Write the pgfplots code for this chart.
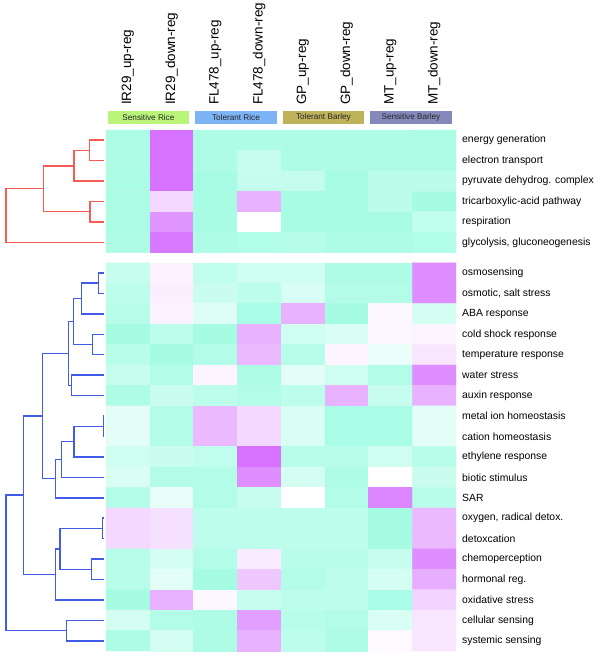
\documentclass[border=0pt]{standalone}
\usepackage{fontspec}
\setmainfont{Liberation Sans}
\usepackage{pgfplots}
\pgfplotsset{compat=1.18}

\definecolor{dendred}{RGB}{244,92,84}
\definecolor{dendblue}{RGB}{66,92,234}
\definecolor{grpgreen}{RGB}{186,245,122}
\definecolor{grpblue}{RGB}{124,180,245}
\definecolor{grpolive}{RGB}{190,178,90}
\definecolor{grpviolet}{RGB}{132,136,186}

\newcommand{\colfont}{\fontsize{13.5}{15}\selectfont}
\newcommand{\rowfont}{\fontsize{10.4}{12}\selectfont}
\newcommand{\grpfont}{\fontsize{8.2}{9}\selectfont}

\begin{document}
\begin{tikzpicture}
% ---- dendrogram (x in px of distance, y in rows)
\begin{axis}[
  at={(0pt,12pt)}, anchor=south west,
  scale only axis, width=106pt, height=521pt,
  xmin=0, xmax=106, ymin=-0.5, ymax=25, y dir=reverse,
  hide axis, clip=false,
  every axis plot/.append style={line width=1.5pt, line join=miter},
]
% red cluster
\addplot[dendred] coordinates {(104,0) (89.3,0) (89.3,1) (104,1)};
\addplot[dendred] coordinates {(89.3,0.5) (74,0.5) (74,2) (104,2)};
\addplot[dendred] coordinates {(104,3) (90,3) (90,4) (104,4)};
\addplot[dendred] coordinates {(74,1.25) (43.3,1.25) (43.3,3.5) (90,3.5)};
\addplot[dendred] coordinates {(43.3,2.375) (6,2.375) (6,5) (104,5)};
% blue cluster
\addplot[dendblue] coordinates {(104,6.5) (98.7,6.5) (98.7,7.5) (104,7.5)};
\addplot[dendblue] coordinates {(98.7,7) (81.7,7) (81.7,8.5) (104,8.5)};
\addplot[dendblue] coordinates {(104,9.5) (92.7,9.5) (92.7,10.5) (104,10.5)};
\addplot[dendblue] coordinates {(81.7,7.75) (73.3,7.75) (73.3,10) (92.7,10)};
\addplot[dendblue] coordinates {(104,11.5) (71.7,11.5) (71.7,12.5) (104,12.5)};
\addplot[dendblue] coordinates {(73.3,8.875) (68.3,8.875) (68.3,12) (71.7,12)};
\addplot[dendblue] coordinates {(104,13.5) (103.3,13.5) (103.3,14.5) (104,14.5)};
\addplot[dendblue] coordinates {(103.3,14) (74,14) (74,15.5) (104,15.5)};
\addplot[dendblue] coordinates {(74,14.75) (61.3,14.75) (61.3,16.5) (104,16.5)};
\addplot[dendblue] coordinates {(61.3,15.625) (55.7,15.625) (55.7,17.5) (104,17.5)};
\addplot[dendblue] coordinates {(68.3,10.44) (42.7,10.44) (42.7,16.56) (55.7,16.56)};
\addplot[dendblue] coordinates {(104,18.5) (102.3,18.5) (102.3,19.5) (104,19.5)};
\addplot[dendblue] coordinates {(104,20.5) (91.3,20.5) (91.3,21.5) (104,21.5)};
\addplot[dendblue] coordinates {(102.3,19) (60,19) (60,21) (91.3,21)};
\addplot[dendblue] coordinates {(60,20) (55.7,20) (55.7,22.5) (104,22.5)};
\addplot[dendblue] coordinates {(42.7,13.5) (23.3,13.5) (23.3,21.25) (55.7,21.25)};
\addplot[dendblue] coordinates {(104,23.5) (66.7,23.5) (66.7,24.5) (104,24.5)};
\addplot[dendblue] coordinates {(23.3,17.375) (6,17.375) (6,24) (66.7,24)};
\end{axis}

% ---- heatmap
\begin{axis}[
  at={(106pt,12pt)}, anchor=south west,
  scale only axis, width=350pt, height=521pt,
  xmin=-0.5, xmax=7.5, ymin=-0.5, ymax=25, y dir=reverse,
  axis line style={draw=none}, major tick length=0pt,
  xtick=\empty, clip=false,
  ytick={0,1,2,3,4,5,6.5,7.5,8.5,9.5,10.5,11.5,12.5,13.5,14.5,15.5,16.5,17.5,18.5,19.5,20.5,21.5,22.5,23.5,24.5},
  yticklabels={energy generation, electron transport, pyruvate dehydrog. complex,
    tricarboxylic-acid pathway, respiration, {glycolysis, gluconeogenesis},
    osmosensing, {osmotic, salt stress}, ABA response, cold shock response,
    temperature response, water stress, auxin response, metal ion homeostasis,
    cation homeostasis, ethylene response, biotic stimulus, SAR,
    {oxygen, radical detox.}, detoxcation, chemoperception, hormonal reg.,
    oxidative stress, cellular sensing, systemic sensing},
  yticklabel pos=right,
  yticklabel style={anchor=west, inner sep=0pt, xshift=6pt, font=\rowfont, text=black},
  colormap={tealpink}{rgb255=(160,252,226) rgb255=(255,255,255) rgb255=(214,114,255)},
  point meta min=-1, point meta max=1,
]
% upper block: energy metabolism
\addplot[matrix plot*, mesh/cols=8, point meta=explicit] coordinates {
 (0,0)[-0.85] (1,0)[1.00] (2,0)[-0.85] (3,0)[-0.85] (4,0)[-0.85] (5,0)[-0.85] (6,0)[-0.85] (7,0)[-0.85]
 (0,1)[-0.85] (1,1)[1.00] (2,1)[-0.85] (3,1)[-0.60] (4,1)[-0.85] (5,1)[-0.85] (6,1)[-0.85] (7,1)[-0.85]
 (0,2)[-0.88] (1,2)[1.00] (2,2)[-0.92] (3,2)[-0.62] (4,2)[-0.62] (5,2)[-0.92] (6,2)[-0.72] (7,2)[-0.72]
 (0,3)[-0.88] (1,3)[0.28] (2,3)[-0.92] (3,3)[0.55] (4,3)[-0.92] (5,3)[-0.92] (6,3)[-0.72] (7,3)[-0.95]
 (0,4)[-0.88] (1,4)[0.75] (2,4)[-0.92] (3,4)[0.00] (4,4)[-0.92] (5,4)[-0.92] (6,4)[-0.92] (7,4)[-0.65]
 (0,5)[-0.85] (1,5)[0.95] (2,5)[-0.85] (3,5)[-0.82] (4,5)[-0.78] (5,5)[-0.85] (6,5)[-0.85] (7,5)[-0.82]
};
% lower block: stress and signalling
\addplot[matrix plot*, mesh/cols=8, point meta=explicit] coordinates {
 (0,6.5)[-0.60] (1,6.5)[0.10] (2,6.5)[-0.65] (3,6.5)[-0.50] (4,6.5)[-0.50] (5,6.5)[-0.85] (6,6.5)[-0.85] (7,6.5)[0.80]
 (0,7.5)[-0.70] (1,7.5)[0.12] (2,7.5)[-0.55] (3,7.5)[-0.70] (4,7.5)[-0.40] (5,7.5)[-0.80] (6,7.5)[-0.80] (7,7.5)[0.80]
 (0,8.5)[-0.75] (1,8.5)[0.10] (2,8.5)[-0.35] (3,8.5)[-0.90] (4,8.5)[0.55] (5,8.5)[-0.95] (6,8.5)[0.05] (7,8.5)[-0.45]
 (0,9.5)[-0.95] (1,9.5)[-0.70] (2,9.5)[-0.95] (3,9.5)[0.55] (4,9.5)[-0.50] (5,9.5)[-0.40] (6,9.5)[0.06] (7,9.5)[0.08]
 (0,10.5)[-0.75] (1,10.5)[-0.95] (2,10.5)[-0.80] (3,10.5)[0.50] (4,10.5)[-0.75] (5,10.5)[0.07] (6,10.5)[-0.20] (7,10.5)[0.18]
 (0,11.5)[-0.60] (1,11.5)[-0.80] (2,11.5)[0.07] (3,11.5)[-0.85] (4,11.5)[-0.30] (5,11.5)[-0.50] (6,11.5)[-0.80] (7,11.5)[0.80]
 (0,12.5)[-0.85] (1,12.5)[-0.55] (2,12.5)[-0.70] (3,12.5)[-0.80] (4,12.5)[-0.70] (5,12.5)[0.55] (6,12.5)[-0.60] (7,12.5)[0.55]
 (0,13.5)[-0.30] (1,13.5)[-0.80] (2,13.5)[0.50] (3,13.5)[0.28] (4,13.5)[-0.40] (5,13.5)[-0.90] (6,13.5)[-0.90] (7,13.5)[-0.30]
 (0,14.5)[-0.30] (1,14.5)[-0.80] (2,14.5)[0.50] (3,14.5)[0.28] (4,14.5)[-0.40] (5,14.5)[-0.90] (6,14.5)[-0.90] (7,14.5)[-0.30]
 (0,15.5)[-0.50] (1,15.5)[-0.55] (2,15.5)[-0.65] (3,15.5)[1.00] (4,15.5)[-0.75] (5,15.5)[-0.75] (6,15.5)[-0.50] (7,15.5)[-0.75]
 (0,16.5)[-0.40] (1,16.5)[-0.80] (2,16.5)[-0.80] (3,16.5)[0.80] (4,16.5)[-0.45] (5,16.5)[-0.85] (6,16.5)[0.00] (7,16.5)[-0.55]
 (0,17.5)[-0.80] (1,17.5)[-0.25] (2,17.5)[-0.80] (3,17.5)[-0.60] (4,17.5)[0.00] (5,17.5)[-0.80] (6,17.5)[0.85] (7,17.5)[-0.75]
 (0,18.5)[0.28] (1,18.5)[0.22] (2,18.5)[-0.70] (3,18.5)[-0.70] (4,18.5)[-0.70] (5,18.5)[-0.70] (6,18.5)[-0.95] (7,18.5)[0.50]
 (0,19.5)[0.28] (1,19.5)[0.22] (2,19.5)[-0.70] (3,19.5)[-0.70] (4,19.5)[-0.70] (5,19.5)[-0.70] (6,19.5)[-0.95] (7,19.5)[0.50]
 (0,20.5)[-0.75] (1,20.5)[-0.45] (2,20.5)[-0.80] (3,20.5)[0.15] (4,20.5)[-0.75] (5,20.5)[-0.75] (6,20.5)[-0.60] (7,20.5)[0.80]
 (0,21.5)[-0.75] (1,21.5)[-0.30] (2,21.5)[-0.95] (3,21.5)[0.40] (4,21.5)[-0.80] (5,21.5)[-0.70] (6,21.5)[-0.45] (7,21.5)[0.58]
 (0,22.5)[-0.95] (1,22.5)[0.55] (2,22.5)[0.06] (3,22.5)[-0.60] (4,22.5)[-0.70] (5,22.5)[-0.70] (6,22.5)[-0.90] (7,22.5)[0.32]
 (0,23.5)[-0.45] (1,23.5)[-0.80] (2,23.5)[-0.85] (3,23.5)[0.68] (4,23.5)[-0.75] (5,23.5)[-0.80] (6,23.5)[-0.40] (7,23.5)[0.18]
 (0,24.5)[-0.85] (1,24.5)[-0.45] (2,24.5)[-0.85] (3,24.5)[0.55] (4,24.5)[-0.70] (5,24.5)[-0.85] (6,24.5)[0.04] (7,24.5)[0.18]
};
% group bars
\fill[grpgreen]  (axis cs:-0.46,-1.43) rectangle (axis cs:1.40,-0.79);
\fill[grpblue]   (axis cs:1.54,-1.43) rectangle (axis cs:3.40,-0.79);
\fill[grpolive]  (axis cs:3.54,-1.43) rectangle (axis cs:5.40,-0.79);
\fill[grpviolet] (axis cs:5.54,-1.43) rectangle (axis cs:7.40,-0.79);
\node[font=\grpfont, text=black!85] at (axis cs:0.47,-1.11) {Sensitive Rice};
\node[font=\grpfont, text=black!85] at (axis cs:2.47,-1.11) {Tolerant Rice};
\node[font=\grpfont, text=black!85] at (axis cs:4.47,-1.11) {Tolerant Barley};
\node[font=\grpfont, text=black!85] at (axis cs:6.47,-1.11) {Sensitive Barley};
% column labels
\node[rotate=90, anchor=west, inner sep=0pt, font=\colfont] at (axis cs:0,-1.72) {IR29\_up-reg};
\node[rotate=90, anchor=west, inner sep=0pt, font=\colfont] at (axis cs:1,-1.72) {IR29\_down-reg};
\node[rotate=90, anchor=west, inner sep=0pt, font=\colfont] at (axis cs:2,-1.72) {FL478\_up-reg};
\node[rotate=90, anchor=west, inner sep=0pt, font=\colfont] at (axis cs:3,-1.72) {FL478\_down-reg};
\node[rotate=90, anchor=west, inner sep=0pt, font=\colfont] at (axis cs:4,-1.72) {GP\_up-reg};
\node[rotate=90, anchor=west, inner sep=0pt, font=\colfont] at (axis cs:5,-1.72) {GP\_down-reg};
\node[rotate=90, anchor=west, inner sep=0pt, font=\colfont] at (axis cs:6,-1.72) {MT\_up-reg};
\node[rotate=90, anchor=west, inner sep=0pt, font=\colfont] at (axis cs:7,-1.72) {MT\_down-reg};
\end{axis}
\pgfresetboundingbox
\useasboundingbox (0pt,0pt) rectangle (600pt,663pt);
\end{tikzpicture}
\end{document}
